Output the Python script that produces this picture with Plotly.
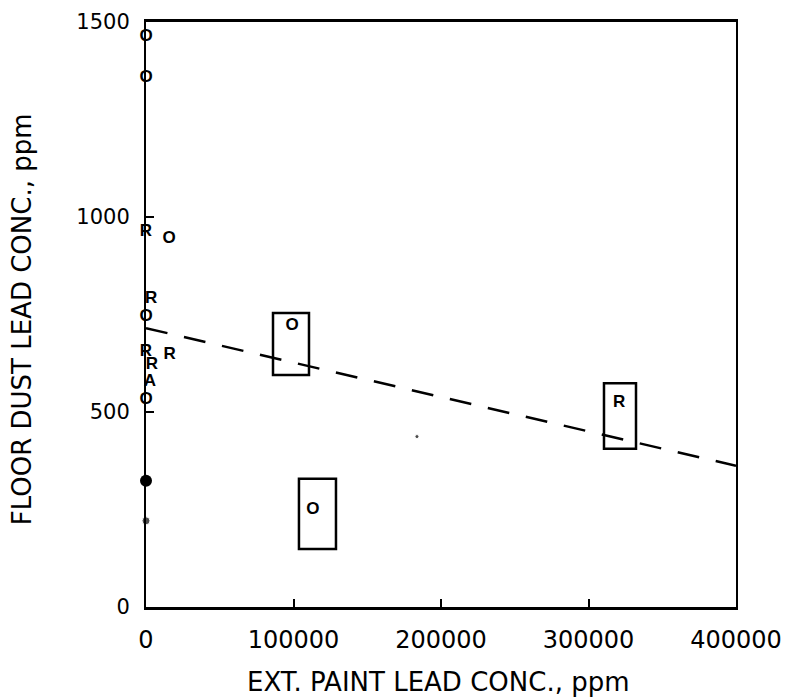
import plotly.graph_objects as go

# ---- data ----
o_x = [0, 0, 15600, 0, 0, 99000, 113200]
o_y = [1461, 1356, 944, 743, 532, 720, 250]

r_x = [0, 3400, 0, 4000, 16000, 320700]
r_y = [962, 790, 655, 622, 648, 525]

a_x = [2700]
a_y = [578]

blob_x = [0]
blob_y = [324]

dot_x = [0, 183700]
dot_y = [221, 437]
dot_size = [8, 4]

box_x0 = [86100, 103700, 310500]
box_x1 = [110500, 128800, 332200]
box_y0 = [595, 149, 406]
box_y1 = [754, 329, 574]

fit_x = [0, 400000]
fit_y = [715, 362]

x_ticks = [0, 100000, 200000, 300000, 400000]
x_tick_text = ["0", "100000", "200000", "300000", "400000"]
y_ticks = [0, 500, 1000, 1500]
y_tick_text = ["0", "500", "1000", "1500"]

FONT = "DejaVu Sans"
LETTER_FONT = dict(family="Liberation Sans", size=17, color="black")

fig = go.Figure()

fig.add_trace(go.Scatter(x=fit_x, y=fit_y, mode="lines",
                         line=dict(color="black", width=2.5, dash="22px,17px"),
                         hoverinfo="skip", showlegend=False))

for xs, ys, ch in [(o_x, o_y, "<b>O</b>"), (r_x, r_y, "<b>R</b>"), (a_x, a_y, "<b>A</b>")]:
    fig.add_trace(go.Scatter(x=xs, y=ys, mode="text", text=[ch] * len(xs),
                             textfont=LETTER_FONT, textposition="middle center",
                             cliponaxis=False, showlegend=False))

fig.add_trace(go.Scatter(x=blob_x, y=blob_y, mode="markers",
                         marker=dict(symbol="circle", size=12, color="black"),
                         cliponaxis=False, showlegend=False))
fig.add_trace(go.Scatter(x=dot_x, y=dot_y, mode="markers",
                         marker=dict(symbol="circle", size=dot_size, color="black"),
                         cliponaxis=False, showlegend=False))

for x0, x1, y0, y1 in zip(box_x0, box_x1, box_y0, box_y1):
    fig.add_shape(type="rect", xref="x", yref="y", x0=x0, x1=x1, y0=y0, y1=y1,
                  line=dict(color="black", width=2.5), fillcolor="rgba(0,0,0,0)")

fig.update_layout(
    width=783, height=692,
    margin=dict(l=138, r=55, t=14, b=93),
    paper_bgcolor="white", plot_bgcolor="white",
    font=dict(family=FONT, color="black"),
    showlegend=False,
)

fig.update_xaxes(range=[0, 400000], tickmode="array", tickvals=x_ticks, ticktext=x_tick_text,
                 ticks="inside", ticklen=8, tickwidth=1.5, tickcolor="black",
                 showline=True, linecolor="black", linewidth=2.5, mirror=True,
                 showgrid=False, zeroline=False, automargin=False,
                 tickfont=dict(family=FONT, size=24, color="black"),
                 ticklabelstandoff=9)
fig.update_yaxes(range=[0, 1500], tickmode="array", tickvals=y_ticks, ticktext=y_tick_text,
                 ticks="inside", ticklen=8, tickwidth=1.5, tickcolor="black",
                 showline=True, linecolor="black", linewidth=2, mirror=True,
                 showgrid=False, zeroline=False, automargin=False,
                 tickfont=dict(family=FONT, size=21, color="black"),
                 ticklabelstandoff=10)

fig.add_annotation(text="EXT. PAINT LEAD CONC., ppm", xref="paper", yref="paper",
                   x=0.495, y=-0.128, showarrow=False, xanchor="center", yanchor="middle",
                   font=dict(family=FONT, size=26, color="black"))
fig.add_annotation(text="FLOOR DUST LEAD CONC., ppm", xref="paper", yref="paper",
                   x=-0.21, y=0.492, showarrow=False, xanchor="center", yanchor="middle",
                   textangle=-90, font=dict(family=FONT, size=26, color="black"))

fig.write_html("out.html")
